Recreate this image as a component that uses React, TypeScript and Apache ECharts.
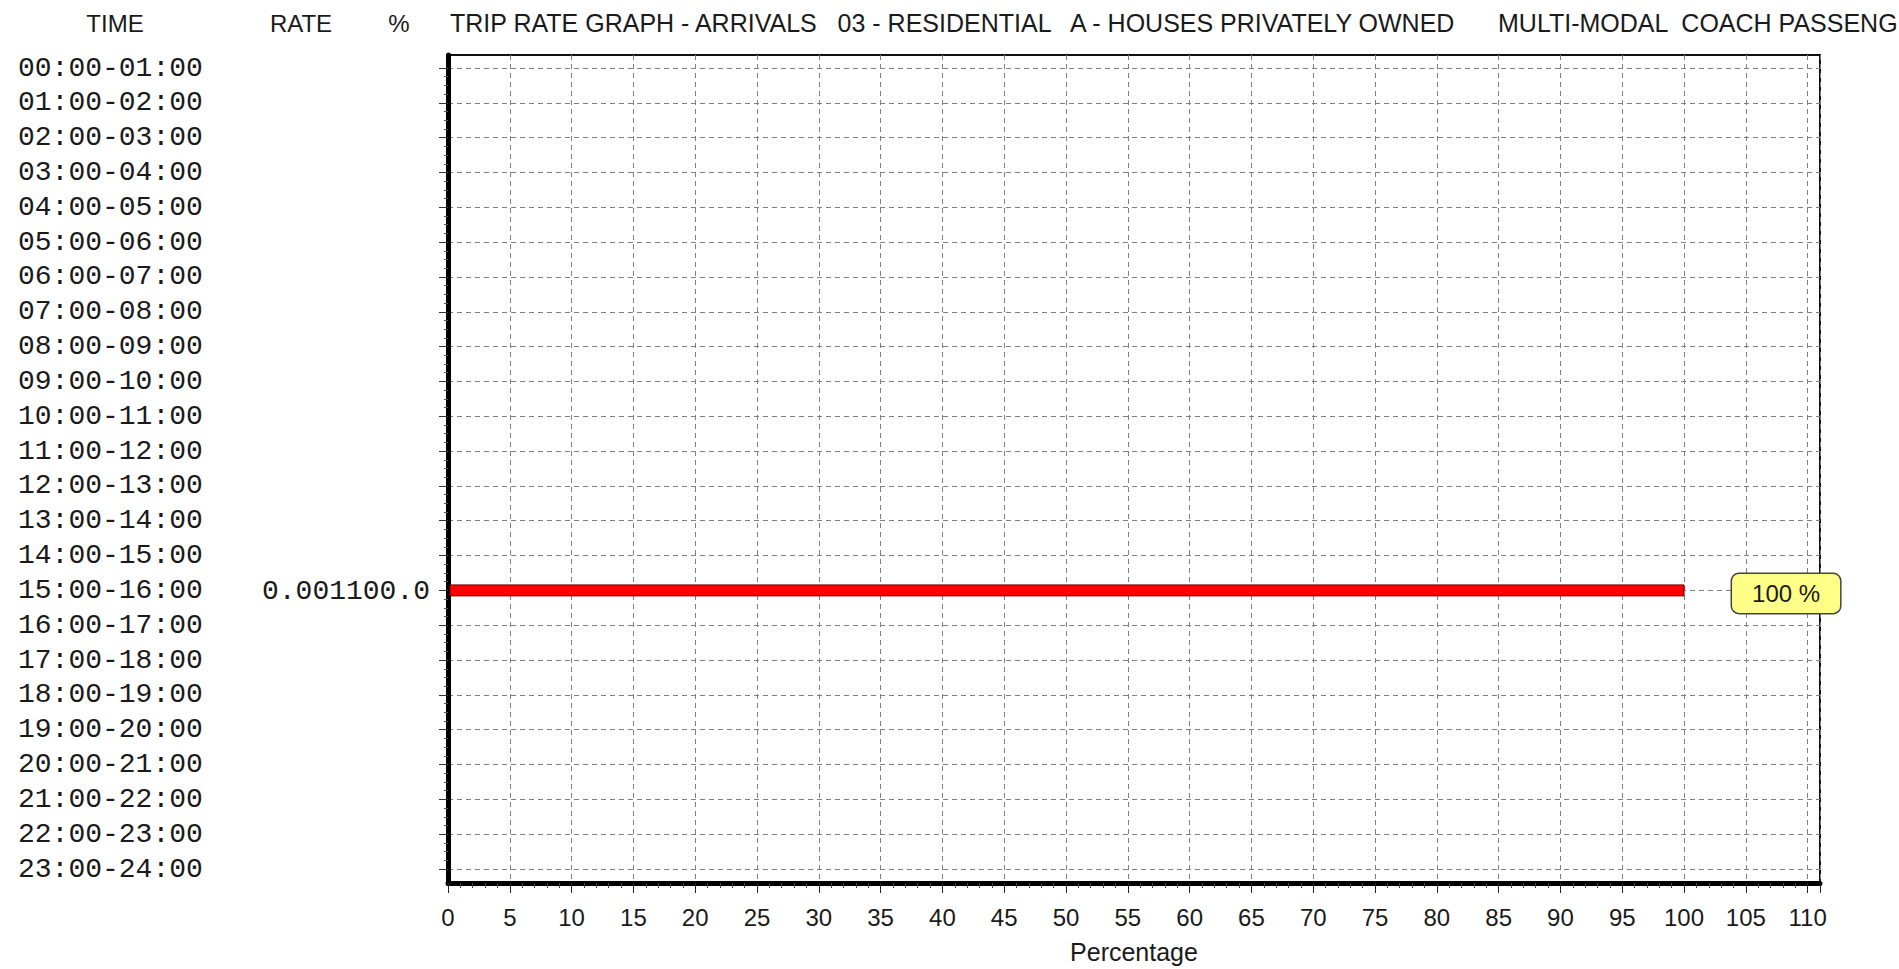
import React, { useEffect, useRef } from "react";
import * as echarts from "echarts";

// ---- data ----
const timeLabels = [
  "00:00-01:00", "01:00-02:00", "02:00-03:00", "03:00-04:00", "04:00-05:00", "05:00-06:00",
  "06:00-07:00", "07:00-08:00", "08:00-09:00", "09:00-10:00", "10:00-11:00", "11:00-12:00",
  "12:00-13:00", "13:00-14:00", "14:00-15:00", "15:00-16:00", "16:00-17:00", "17:00-18:00",
  "18:00-19:00", "19:00-20:00", "20:00-21:00", "21:00-22:00", "22:00-23:00", "23:00-24:00",
];
const tripPercent = [0, 0, 0, 0, 0, 0, 0, 0, 0, 0, 0, 0, 0, 0, 0, 100, 0, 0, 0, 0, 0, 0, 0, 0];
const tripRate = [0, 0, 0, 0, 0, 0, 0, 0, 0, 0, 0, 0, 0, 0, 0, 0.001, 0, 0, 0, 0, 0, 0, 0, 0];
const xAxisMin = 0;
const xAxisMax = 111;
const xAxisStep = 5;
const columnHeaders = ["TIME", "RATE", "%"];
const titleParts = [
  "TRIP RATE GRAPH - ARRIVALS   03 - RESIDENTIAL   A - HOUSES PRIVATELY OWNED",
  "MULTI-MODAL  COACH PASSENG",
];
const xAxisName = "Percentage";

const SANS = "'Liberation Sans', Arial, sans-serif";
const MONO = "'Liberation Mono', 'Courier New', monospace";

export default function App() {
  const ref = useRef<HTMLDivElement>(null);

  useEffect(() => {
    if (!ref.current) return;
    const chart = echarts.init(ref.current, null, { renderer: "svg" });

    const seriesData = tripPercent.map((p, i) => [p, i, tripRate[i]]);

    const option: any = {
      animation: false,
      backgroundColor: "#ffffff",
      textStyle: { fontFamily: SANS },
      graphic: [
        { type: "text", x: 115, y: 23, style: { text: columnHeaders[0], font: `24px ${SANS}`, fill: "#1a1a1a", align: "center", verticalAlign: "middle" } },
        { type: "text", x: 301, y: 23, style: { text: columnHeaders[1], font: `24px ${SANS}`, fill: "#1a1a1a", align: "center", verticalAlign: "middle" } },
        { type: "text", x: 399, y: 23, style: { text: columnHeaders[2], font: `24px ${SANS}`, fill: "#1a1a1a", align: "center", verticalAlign: "middle" } },
        { type: "text", x: 450, y: 23, style: { text: titleParts[0], font: `25px ${SANS}`, fill: "#1a1a1a", align: "left", verticalAlign: "middle" } },
        { type: "text", x: 1498, y: 23, style: { text: titleParts[1], font: `25px ${SANS}`, fill: "#1a1a1a", align: "left", verticalAlign: "middle" } },
      ],
      grid: [
        { left: 448, right: 79, top: 55, bottom: 86, show: true, borderColor: "#111", borderWidth: 2, backgroundColor: "transparent" },
        { left: 448, right: 79, top: 68, bottom: 100, show: false },
      ],
      xAxis: [
        {
          type: "value",
          gridIndex: 0,
          min: xAxisMin,
          max: xAxisMax,
          interval: xAxisStep,
          name: xAxisName,
          nameLocation: "middle",
          nameGap: 56,
          nameTextStyle: { fontSize: 25, color: "#1a1a1a", fontFamily: SANS },
          axisLine: { show: true, onZero: false, lineStyle: { color: "#000", width: 5 } },
          axisTick: { show: true, length: 10, lineStyle: { color: "#222", width: 1 } },
          minorTick: { show: true, splitNumber: 5, length: 5, lineStyle: { color: "#444", width: 1 } },
          axisLabel: {
            show: true,
            margin: 22,
            fontSize: 24,
            color: "#1a1a1a",
            fontFamily: SANS,
            showMaxLabel: false,
            formatter: (v: number) => (v % xAxisStep === 0 ? String(v) : ""),
          },
          splitLine: { show: true, lineStyle: { color: "#808080", width: 1, type: [5, 4] } },
        },
        {
          type: "value",
          gridIndex: 1,
          min: xAxisMin,
          max: xAxisMax,
          show: false,
        },
      ],
      yAxis: [
        {
          type: "value",
          gridIndex: 0,
          min: 0,
          max: 1,
          axisLine: { show: true, onZero: false, lineStyle: { color: "#000", width: 5 } },
          axisTick: { show: false },
          axisLabel: { show: false },
          splitLine: { show: false },
        },
        {
          type: "value",
          gridIndex: 1,
          min: 0,
          max: timeLabels.length - 1,
          interval: 1,
          inverse: true,
          axisLine: { show: false, onZero: false },
          axisTick: { show: true, length: 9, lineStyle: { color: "#333", width: 1 } },
          minorTick: { show: true, splitNumber: 4, length: 4, lineStyle: { color: "#555", width: 1 } },
          axisLabel: {
            show: true,
            align: "left",
            margin: 430,
            fontSize: 28,
            fontFamily: MONO,
            color: "#1a1a1a",
            formatter: (v: number) => timeLabels[v] ?? "",
          },
          splitLine: { show: true, lineStyle: { color: "#808080", width: 1, type: [5, 4] } },
        },
      ],
      series: [
        {
          type: "custom",
          xAxisIndex: 1,
          yAxisIndex: 1,
          encode: { x: 0, y: 1 },
          clip: false,
          data: seriesData,
          renderItem: (params: any, api: any) => {
            const pct = api.value(0);
            const row = api.value(1);
            const rate = api.value(2);
            if (!pct) return { type: "group", children: [] };
            const start = api.coord([0, row]);
            const end = api.coord([pct, row]);
            const h = 11;
            return {
              type: "group",
              children: [
                {
                  type: "rect",
                  shape: { x: start[0] + 2, y: start[1] - h / 2, width: end[0] - start[0] - 2, height: h },
                  style: { fill: "#ff0000", stroke: "#7a0000", lineWidth: 1 },
                },
                {
                  type: "text",
                  x: start[0] - 18,
                  y: start[1] + 1,
                  style: {
                    text: rate.toFixed(3) + pct.toFixed(1),
                    font: `28px ${MONO}`,
                    fill: "#1a1a1a",
                    align: "right",
                    verticalAlign: "middle",
                  },
                },
                {
                  type: "text",
                  x: end[0] + 48,
                  y: start[1] + 3,
                  style: {
                    text: `${pct} %`,
                    font: `24px ${SANS}`,
                    fill: "#1a1a1a",
                    align: "left",
                    verticalAlign: "middle",
                    backgroundColor: "#ffff88",
                    borderColor: "#444",
                    borderWidth: 1.5,
                    borderRadius: 7,
                    padding: [8, 20, 7, 20],
                  },
                },
              ],
            };
          },
        },
      ],
    };

    chart.setOption(option);
    const onResize = () => chart.resize();
    window.addEventListener("resize", onResize);
    return () => {
      window.removeEventListener("resize", onResize);
      chart.dispose();
    };
  }, []);

  return (
    <div
      ref={ref}
      style={{ position: "fixed", left: 0, top: 0, width: "1899px", height: "969px", background: "#fff" }}
    />
  );
}
